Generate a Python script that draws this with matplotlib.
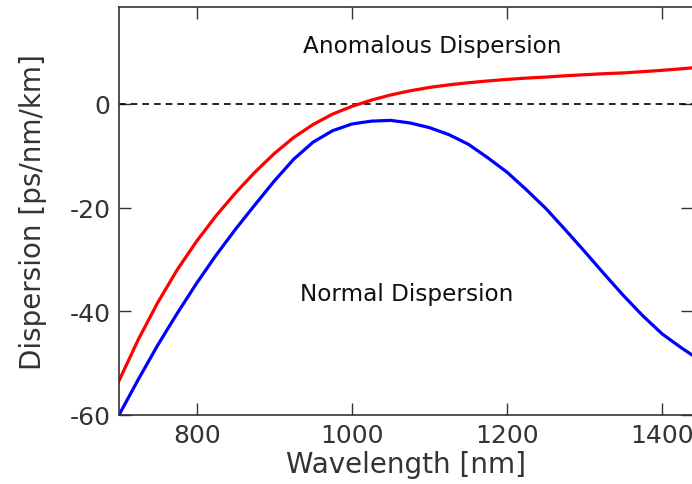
import matplotlib
matplotlib.use("Agg")
import matplotlib.pyplot as plt

plt.rcParams["axes.unicode_minus"] = False

# wavelength in nm, dispersion in ps/nm/km
wavelength = [700, 725, 750, 775, 800, 825, 850, 875, 900, 925, 950, 975, 1000,
              1025, 1050, 1075, 1100, 1125, 1150, 1175, 1200, 1225, 1250, 1275,
              1300, 1325, 1350, 1375, 1400, 1425, 1440]
disp_red = [-53.4, -45.4, -38.3, -32.0, -26.5, -21.6, -17.2, -13.2, -9.6, -6.5, -4.0, -2.0, -0.5,
            0.7, 1.7, 2.5, 3.15, 3.65, 4.05, 4.4, 4.7, 4.95, 5.15, 5.4,
            5.6, 5.8, 5.95, 6.2, 6.45, 6.75, 6.95]
disp_blue = [-60.0, -53.1, -46.5, -40.4, -34.6, -29.2, -24.2, -19.5, -14.9, -10.7, -7.4, -5.2, -3.9,
             -3.35, -3.2, -3.7, -4.6, -5.95, -7.8, -10.4, -13.2, -16.6, -20.2, -24.3,
             -28.5, -32.8, -37.0, -40.9, -44.4, -47.1, -48.6]

xticks = [800, 1000, 1200, 1400]
yticks = [-60, -40, -20, 0]

grey = "#333333"

fig = plt.figure(figsize=(6.92, 4.85), dpi=100)
ax = fig.add_axes([0.172, 0.1423, 0.83, 0.8406])

ax.axhline(0, color="black", lw=1.2, ls=(0, (4, 3)))
ax.plot(wavelength, disp_red, color="#ff0000", lw=2.3)
ax.plot(wavelength, disp_blue, color="#0000ff", lw=2.3)

ax.text(1103, 11.3, "Anomalous Dispersion", ha="center", va="center", fontsize=16.7, color="#111111")
ax.text(1070, -36.6, "Normal Dispersion", ha="center", va="center", fontsize=16.7, color="#111111")

ax.set_xlim(700, 1440)
ax.set_ylim(-60, 18.6)
ax.set_xticks(xticks)
ax.set_yticks(yticks)
ax.tick_params(direction="in", length=8.5, width=1, colors=grey, labelsize=18,
               top=True, right=True, pad=6)
for s in ax.spines.values():
    s.set_color(grey)
    s.set_linewidth(1.2)

ax.set_xlabel("Wavelength [nm]", fontsize=20, color=grey, labelpad=2)
ax.set_ylabel("Dispersion [ps/nm/km]", fontsize=20, color=grey, labelpad=16)

fig.savefig("out.png", dpi=100)
